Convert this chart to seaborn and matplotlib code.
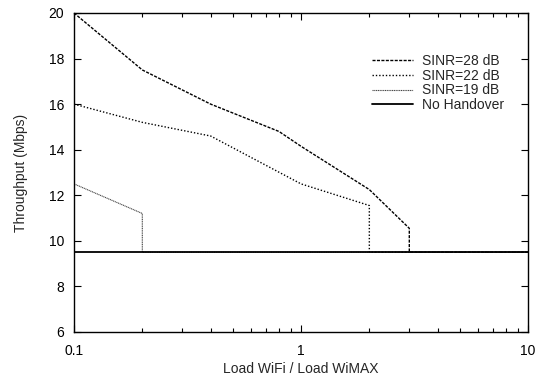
import seaborn as sns
import matplotlib.pyplot as plt
import pandas as pd

# data
load_28 = [0.1, 0.2, 0.4, 0.8, 1.0, 2.0, 3.0, 3.0, 10.0]
thr_28 = [20.0, 17.5, 16.0, 14.8, 14.15, 12.25, 10.55, 9.5, 9.5]

load_22 = [0.1, 0.2, 0.4, 1.0, 2.0, 2.0, 10.0]
thr_22 = [16.0, 15.2, 14.6, 12.5, 11.55, 9.5, 9.5]

load_19 = [0.1, 0.2, 0.2, 10.0]
thr_19 = [12.5, 11.2, 9.5, 9.5]

load_nh = [0.1, 10.0]
thr_nh = [9.5, 9.5]

series = [
    ("SINR=28 dB", load_28, thr_28, (0, (2.2, 1.0)), "black", 1.0),
    ("SINR=22 dB", load_22, thr_22, (0, (1.0, 1.4)), "black", 1.0),
    ("SINR=19 dB", load_19, thr_19, (0, (1.0, 0.6)), "#444444", 0.8),
    ("No Handover", load_nh, thr_nh, "-", "black", 1.3),
]

sns.set_style("ticks")
plt.rcParams["font.family"] = ["Liberation Sans", "DejaVu Sans"]
plt.rcParams["font.size"] = 10

fig = plt.figure(figsize=(5.5, 3.85), dpi=100)
ax = fig.add_axes([0.1345, 0.1377, 0.8255, 0.8286])

for name, xs, ys, ls, col, lw in series:
    df = pd.DataFrame({"load": xs, "thr": ys})
    sns.lineplot(data=df, x="load", y="thr", ax=ax, estimator=None, sort=False,
                 color=col, linestyle=ls, linewidth=lw, label=name)

ax.set_xscale("log")
ax.set_xlim(0.1, 10)
ax.set_ylim(6, 20)
ax.set_yticks([6, 8, 10, 12, 14, 16, 18, 20])
ax.set_xticks([0.1, 1, 10])
ax.set_xticklabels(["0.1", "1", "10"])
ax.tick_params(which="both", direction="in", top=True, right=True, colors="black")
ax.tick_params(which="major", length=5, width=0.8)
ax.tick_params(which="minor", length=3, width=0.8)
ax.tick_params(axis="x", pad=8.5)
ax.tick_params(axis="y", pad=7)
for s in ax.spines.values():
    s.set_linewidth(1.0)
    s.set_color("black")

ax.set_xlabel("Load WiFi / Load WiMAX")
ax.set_ylabel("Throughput (Mbps)")
ax.xaxis.set_label_coords(0.5, -0.094)
ax.yaxis.set_label_coords(-0.101, 0.5)

ax.legend(loc="upper right", bbox_to_anchor=(0.948, 0.872), frameon=False,
          handlelength=2.9, handletextpad=0.7, labelspacing=0.06,
          borderpad=0, borderaxespad=0)

fig.savefig("out.png", dpi=100)
